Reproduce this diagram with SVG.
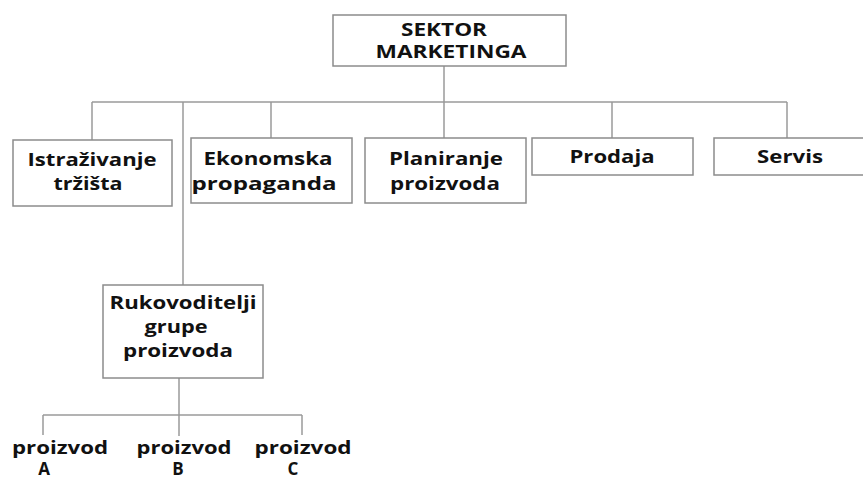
<svg xmlns="http://www.w3.org/2000/svg" width="863" height="481" viewBox="0 0 863 481">
<style>
.box{fill:#ffffff;stroke:#8c8c8c;stroke-width:1.5}
.ln{stroke:#9a9a9a;stroke-width:1.5;fill:none}
text{font-family:"Open Sans","Liberation Sans",sans-serif;font-weight:700;font-size:18px;fill:#111111;text-anchor:middle}
.top{font-size:17px}
.let{font-size:17px}
</style>
<rect width="863" height="481" fill="#ffffff"/>
<g id="connectors">
<path class="ln" d="M444,66 V102 M92,102 H787 M92,102 V140 M183,102 V285 M271,102 V138 M444,102 V138 M612,102 V138 M787,102 V138"/>
<path class="ln" d="M179,378 V436 M43,415 H302 M43,415 V435 M302,415 V435"/>
</g>
<g id="sektor">
<rect class="box" x="333" y="15" width="233" height="51"/>
<text class="top" x="444" y="36" textLength="86" lengthAdjust="spacingAndGlyphs">SEKTOR</text>
<text class="top" x="451" y="58" textLength="151" lengthAdjust="spacingAndGlyphs">MARKETINGA</text>
</g>
<g id="istrazivanje">
<rect class="box" x="13" y="140" width="159" height="66"/>
<text x="92" y="166" textLength="129" lengthAdjust="spacingAndGlyphs">Istraživanje</text>
<text x="88" y="190" textLength="69" lengthAdjust="spacingAndGlyphs">tržišta</text>
</g>
<g id="ekonomska">
<rect class="box" x="191" y="138" width="161" height="65"/>
<text x="268" y="165" textLength="129" lengthAdjust="spacingAndGlyphs">Ekonomska</text>
<text x="264" y="190" textLength="145" lengthAdjust="spacingAndGlyphs">propaganda</text>
</g>
<g id="planiranje">
<rect class="box" x="365" y="138" width="161" height="65"/>
<text x="446" y="165" textLength="114" lengthAdjust="spacingAndGlyphs">Planiranje</text>
<text x="445" y="190" textLength="110" lengthAdjust="spacingAndGlyphs">proizvoda</text>
</g>
<g id="prodaja">
<rect class="box" x="532" y="138" width="161" height="37"/>
<text x="612" y="163" textLength="85" lengthAdjust="spacingAndGlyphs">Prodaja</text>
</g>
<g id="servis">
<rect class="box" x="714" y="138" width="160" height="37"/>
<text x="790" y="163" textLength="66" lengthAdjust="spacingAndGlyphs">Servis</text>
</g>
<g id="rukovoditelji">
<rect class="box" x="103" y="285" width="160" height="93"/>
<text x="183" y="309" textLength="147" lengthAdjust="spacingAndGlyphs">Rukovoditelji</text>
<text x="176" y="333" textLength="63" lengthAdjust="spacingAndGlyphs">grupe</text>
<text x="178" y="357" textLength="110" lengthAdjust="spacingAndGlyphs">proizvoda</text>
</g>
<g id="proizvodA">
<text x="60" y="454" textLength="96" lengthAdjust="spacingAndGlyphs">proizvod</text>
<text class="let" x="44" y="475">A</text>
</g>
<g id="proizvodB">
<text x="184" y="454" textLength="95" lengthAdjust="spacingAndGlyphs">proizvod</text>
<text class="let" x="178" y="475">B</text>
</g>
<g id="proizvodC">
<text x="303" y="454" textLength="97" lengthAdjust="spacingAndGlyphs">proizvod</text>
<text class="let" x="293" y="475">C</text>
</g>
</svg>
